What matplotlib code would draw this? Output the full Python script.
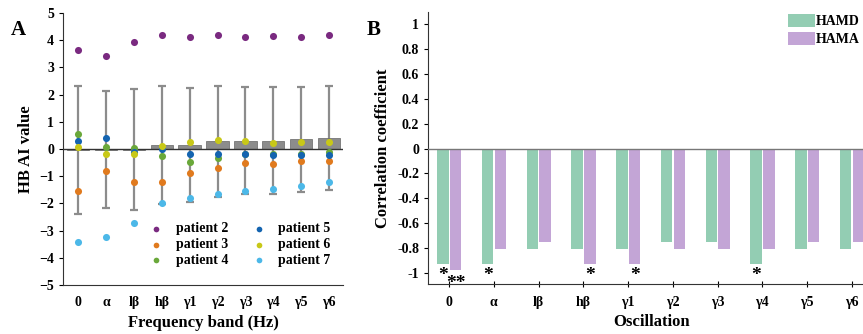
import matplotlib
matplotlib.use("Agg")
import matplotlib.pyplot as plt
import numpy as np

plt.rcParams['font.family'] = ['Liberation Serif', 'DejaVu Serif']
plt.rcParams['font.weight'] = 'bold'

bands = ['0', 'α', 'lβ', 'hβ', 'γ1', 'γ2', 'γ3', 'γ4', 'γ5', 'γ6']

# panel A: HB AI value per patient
patient_2 = [3.65, 3.43, 3.93, 4.21, 4.13, 4.21, 4.10, 4.15, 4.12, 4.18]
patient_3 = [-1.54, -0.80, -1.23, -1.21, -0.89, -0.69, -0.53, -0.56, -0.44, -0.45]
patient_4 = [0.56, 0.09, 0.05, -0.25, -0.47, -0.33, -0.20, -0.20, -0.18, -0.12]
patient_5 = [0.31, 0.41, -0.10, 0.00, -0.20, -0.20, -0.20, -0.22, -0.21, -0.21]
patient_6 = [0.07, -0.18, -0.18, 0.12, 0.26, 0.33, 0.28, 0.21, 0.24, 0.24]
patient_7 = [-3.44, -3.23, -2.74, -1.99, -1.82, -1.65, -1.54, -1.48, -1.37, -1.23]
mean_ai = [-0.04, -0.02, -0.03, 0.13, 0.15, 0.28, 0.31, 0.31, 0.35, 0.40]
sd_ai = [2.37, 2.15, 2.23, 2.17, 2.09, 2.03, 1.97, 1.97, 1.93, 1.90]

# panel B: correlation coefficients
hamd = [-0.93, -0.93, -0.81, -0.81, -0.81, -0.75, -0.75, -0.93, -0.81, -0.81]
hama = [-0.98, -0.81, -0.75, -0.93, -0.93, -0.81, -0.81, -0.81, -0.75, -0.75]
stars_hamd = ['*', '*', '', '', '', '', '', '*', '', '']
stars_hama = ['**', '', '', '*', '*', '', '', '', '', '']

patients = [('patient 2', patient_2, '#7a2a80'),
            ('patient 3', patient_3, '#e07a1e'),
            ('patient 4', patient_4, '#6aa83a'),
            ('patient 5', patient_5, '#1464b0'),
            ('patient 6', patient_6, '#c8c818'),
            ('patient 7', patient_7, '#4cb8e8')]

fig = plt.figure(figsize=(8.63, 3.34), dpi=100)
axA = fig.add_axes([0.073, 0.147, 0.3245, 0.814])
axB = fig.add_axes([0.496, 0.150, 0.517, 0.814])

x = np.arange(len(bands))

# ---- panel A
axA.bar(x, mean_ai, width=0.8, color='#8c8c8c', edgecolor='#666666', linewidth=0.5, zorder=2)
axA.errorbar(x, mean_ai, yerr=sd_ai, fmt='none', ecolor='#8c8c8c', elinewidth=1.6,
             capsize=3, capthick=1.6, zorder=1)
axA.axhline(0, color='#333333', lw=1, zorder=3)
for name, vals, col in patients:
    axA.scatter(x, vals, s=26, color=col, label=name, zorder=4, linewidths=0)
axA.set_xlim(-0.54, 9.5)
axA.set_ylim(-5, 5)
axA.set_yticks(range(-5, 6))
axA.set_xticks(x)
axA.set_xticklabels(bands)
axA.tick_params(axis='x', length=0, labelsize=10, pad=8)
axA.tick_params(axis='y', length=3, labelsize=10, direction='out')
for s in ['top', 'right']:
    axA.spines[s].set_visible(False)
for s in ['left', 'bottom']:
    axA.spines[s].set_color('#333333')
axA.set_ylabel('HB AI value', fontsize=12, fontweight='bold', labelpad=4)
axA.set_xlabel('Frequency band (Hz)', fontsize=12, fontweight='bold', labelpad=4)
axA.legend(ncol=2, frameon=False, fontsize=10, loc='lower right',
           bbox_to_anchor=(1.0, 0.02), handletextpad=0.4, columnspacing=1.2,
           labelspacing=0.2, markerscale=0.8)
fig.text(0.013, 0.895, 'A', fontsize=15, fontweight='bold')

# ---- panel B
axB.bar(x - 0.14, hamd, width=0.26, color='#93cdb3', label='HAMD', zorder=2)
axB.bar(x + 0.145, hama, width=0.26, color='#c3a5d6', label='HAMA', zorder=2)
axB.axhline(0, color='#777777', lw=1, zorder=3)
for i in range(len(bands)):
    if stars_hamd[i]:
        axB.text(x[i] - 0.14, hamd[i] - 0.02, stars_hamd[i], ha='center', va='top',
                 fontsize=14, fontweight='bold')
    if stars_hama[i]:
        dy = 0.035 if stars_hama[i] == '**' else 0.02
        axB.text(x[i] + 0.16, hama[i] - dy, stars_hama[i],
                 ha='center', va='top', fontsize=14, fontweight='bold')
axB.set_xlim(-0.47, 9.5)
axB.set_ylim(-1.09, 1.1)
axB.set_yticks([1, 0.8, 0.6, 0.4, 0.2, 0, -0.2, -0.4, -0.6, -0.8, -1])
axB.set_yticklabels(['1', '0.8', '0.6', '0.4', '0.2', '0', '-0.2', '-0.4', '-0.6', '-0.8', '-1'])
axB.set_xticks(x)
axB.set_xticklabels(bands)
axB.tick_params(axis='x', length=5, direction='inout', labelsize=10, pad=6)
axB.tick_params(axis='y', length=3, direction='out', labelsize=10)
for s in ['top', 'right']:
    axB.spines[s].set_visible(False)
for s in ['left', 'bottom']:
    axB.spines[s].set_color('#333333')
axB.set_ylabel('Correlation coefficient', fontsize=12, fontweight='bold', labelpad=4)
axB.set_xlabel('Oscillation', fontsize=12, fontweight='bold', labelpad=4)
fig.legend(handles=axB.containers, labels=['HAMD', 'HAMA'], loc='upper right',
           bbox_to_anchor=(1.003, 0.975), frameon=False, fontsize=10,
           handlelength=1.9, handleheight=1.1, handletextpad=0.1, labelspacing=0.25,
           borderaxespad=0)
fig.text(0.425, 0.895, 'B', fontsize=15, fontweight='bold')

fig.savefig('out.png', dpi=100)
